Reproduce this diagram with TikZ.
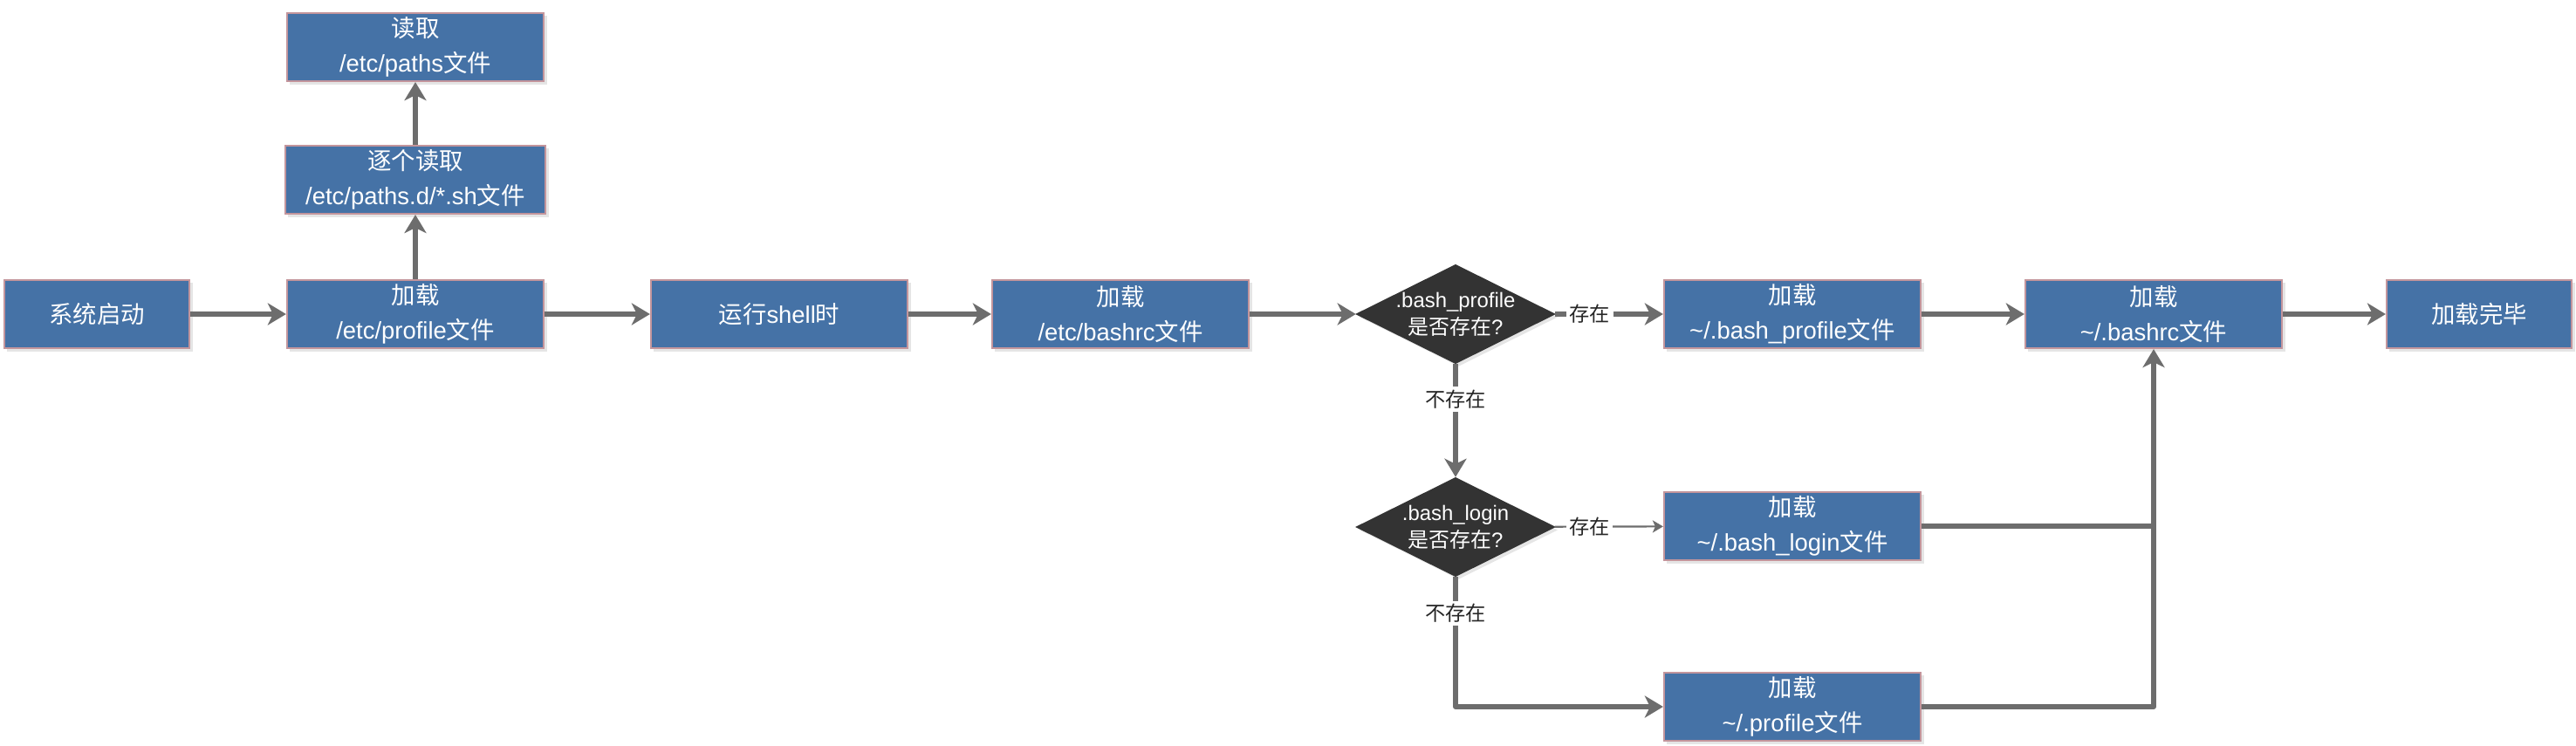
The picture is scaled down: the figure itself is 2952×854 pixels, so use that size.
\documentclass[tikz,border=0pt]{standalone}
\usepackage{fontspec}
\setmainfont{Liberation Sans}
\newfontfamily\cjk{Noto Sans CJK SC}
\usetikzlibrary{arrows.meta, shapes.geometric, shadows}
\definecolor{fcBlue}{HTML}{4572A6}
\definecolor{fcEdge}{HTML}{C3959C}
\definecolor{fcGrey}{HTML}{6D6D6D}
\definecolor{fcDark}{HTML}{333333}
\tikzset{
  procbox/.style  = {rectangle, draw=fcEdge, line width=0.6pt, fill=fcBlue, text=white,
                     minimum width=2.94cm, minimum height=0.78cm, inner sep=0pt,
                     align=center, font=\fontsize{7.8}{11.4}\selectfont,
                     drop shadow={shadow xshift=0.035cm, shadow yshift=-0.035cm,
                                  fill=black, opacity=0.1}},
  decision/.style = {diamond, draw=fcDark, fill=fcDark, minimum width=2.27cm,
                     minimum height=1.13cm, inner sep=0pt,
                     drop shadow={shadow xshift=0.035cm, shadow yshift=-0.035cm,
                                  fill=black, opacity=0.1}},
  dtext/.style    = {text=white, align=center, inner sep=0pt,
                     font=\fontsize{6.8}{8.8}\selectfont},
  link/.style     = {fcGrey, line width=1.7pt, line join=round},
  flow/.style     = {link, -{Stealth[length=0.21cm, width=0.25cm, inset=0.06cm]}},
  thinflow/.style = {fcGrey, line width=0.6pt, -{Stealth[length=0.12cm, width=0.14cm, inset=0.03cm]}},
  lbl/.style      = {fill=white, inner sep=1pt, text=black!85,
                     font=\fontsize{6.6}{8}\selectfont\cjk},
}
\begin{document}
\begin{tikzpicture}[x=0.01cm, y=-0.01cm]
  \useasboundingbox (0,0) rectangle (2952,854);

  % main row
  \node[procbox, minimum width=2.12cm] (boot) at (111,360) {{\cjk 系统启动}};
  \node[procbox] (etcprof) at (476,360) {{\cjk 加载}\\/etc/profile{\cjk 文件}};
  \node[procbox] (shell) at (893,360) {{\cjk 运行}shell{\cjk 时}};
  \node[procbox] (etcrc) at (1284,360) {{\cjk 加载}\\/etc/bashrc{\cjk 文件}};
  \node[decision, label={[dtext]center:.bash\_profile\\{\cjk 是否存在}?}] (dprof) at (1668,360) {};
  \node[procbox] (bprof) at (2054,360) {{\cjk 加载}\\\textasciitilde/.bash\_profile{\cjk 文件}};
  \node[procbox] (bashrc) at (2468,360) {{\cjk 加载}\\\textasciitilde/.bashrc{\cjk 文件}};
  \node[procbox, minimum width=2.12cm] (done) at (2841,360) {{\cjk 加载完毕}};

  % paths files above
  \node[procbox, minimum width=2.98cm] (pathsd) at (476,206) {{\cjk 逐个读取}\\/etc/paths.d/*.sh{\cjk 文件}};
  \node[procbox] (paths) at (476,54) {{\cjk 读取}\\/etc/paths{\cjk 文件}};

  % fallback branch
  \node[decision, label={[dtext]center:.bash\_login\\{\cjk 是否存在}?}] (dlogin) at (1668,604) {};
  \node[procbox] (blogin) at (2054,603) {{\cjk 加载}\\\textasciitilde/.bash\_login{\cjk 文件}};
  \node[procbox] (hprof) at (2054,810) {{\cjk 加载}\\\textasciitilde/.profile{\cjk 文件}};
  \coordinate (join) at (blogin -| bashrc);

  \draw[flow] (boot) -- (etcprof);
  \draw[flow] (etcprof) -- (pathsd);
  \draw[flow] (pathsd) -- (paths);
  \draw[flow] (etcprof) -- (shell);
  \draw[flow] (shell) -- (etcrc);
  \draw[flow] (etcrc) -- (dprof);
  \draw[flow] (dprof) -- node[lbl, pos=0.32] (yes1) {存在} (bprof);
  \draw[flow] (bprof) -- (bashrc);
  \draw[flow] (bashrc) -- (done);
  \draw[flow] (dprof) -- node[lbl, pos=0.31] (no1) {不存在} (dlogin);
  \draw[thinflow] (dlogin) -- node[lbl, pos=0.32] (yes2) {存在} (blogin);
  \draw[flow] (dlogin) |- node[lbl, pos=0.14] (no2) {不存在} (hprof);
  \draw[link] (blogin) -- (join);
  \draw[flow] (hprof) -| (bashrc);
\end{tikzpicture}
\end{document}
